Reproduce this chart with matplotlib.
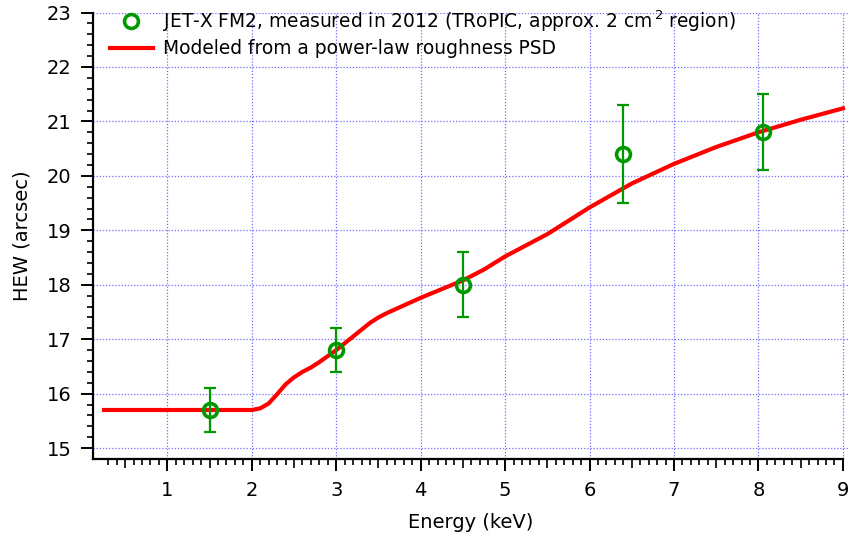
import numpy as np
import matplotlib
matplotlib.use("Agg")
import matplotlib.pyplot as plt
from matplotlib.ticker import FixedLocator
from matplotlib.transforms import IdentityTransform

# measured data
meas_energy = [1.5, 3.0, 4.5, 6.4, 8.05]
meas_hew = [15.7, 16.8, 18.0, 20.4, 20.8]
meas_err = [0.4, 0.4, 0.6, 0.9, 0.7]

# model curve
model_energy = [0.25, 0.5, 1.0, 1.5, 2.0, 2.1, 2.2, 2.3, 2.4, 2.5, 2.6, 2.7, 2.8, 2.9,
                3.0, 3.2, 3.4, 3.5, 3.6, 3.8, 4.0, 4.25, 4.5, 4.75, 5.0, 5.5, 6.0,
                6.5, 7.0, 7.5, 8.0, 8.5, 9.0]
model_hew = [15.7, 15.7, 15.7, 15.7, 15.7, 15.73, 15.82, 15.99, 16.17, 16.3, 16.4, 16.48,
             16.58, 16.69, 16.8, 17.05, 17.3, 17.4, 17.48, 17.62, 17.76, 17.92, 18.08,
             18.28, 18.52, 18.93, 19.42, 19.86, 20.22, 20.53, 20.8, 21.03, 21.24]

xticks = [1, 2, 3, 4, 5, 6, 7, 8, 9]
yticks = [15, 16, 17, 18, 19, 20, 21, 22, 23]

plt.rcParams['font.family'] = ['DejaVu Sans']
fig = plt.figure(figsize=(8.48, 5.33), dpi=100)
ax = fig.add_axes([93/848, (533-459)/533, 1 - 93/848, (459-12.5)/533])

green = '#009a00'
ax.errorbar(meas_energy, meas_hew, yerr=meas_err, fmt='none', ecolor=green,
            elinewidth=1.6, capsize=4, capthick=1.6, zorder=4)
ax.plot(meas_energy, meas_hew, 'o', color=green, mfc='none', mec=green, ms=10,
        mew=2.6, zorder=5,
        label='JET-X FM2, measured in 2012 (TRoPIC, approx. 2 cm$^{\\,2}$ region)')
ax.plot(model_energy, model_hew, color='#ff0000', lw=3, zorder=3,
        label='Modeled from a power-law roughness PSD')

ax.set_xlim(0.12, 9.06)
ax.set_ylim(14.8, 23.0)

ax.xaxis.set_major_locator(FixedLocator(xticks))
ax.yaxis.set_major_locator(FixedLocator(yticks))
ax.xaxis.set_minor_locator(FixedLocator([round(v, 1) for v in np.arange(0.3, 9.0, 0.1)
                                         if abs(v*2 - round(v*2)) > 1e-6]))
ax.yaxis.set_minor_locator(FixedLocator([round(v, 1) for v in np.arange(15.2, 23.0, 0.2)
                                         if abs(v - round(v)) > 1e-6]))

ax.grid(True, which='major', color='#6f6fff', linestyle=(0, (1, 1.5)), lw=0.9)
ax.set_axisbelow(True)

for s in ['top', 'right']:
    ax.spines[s].set_visible(False)
for s in ['left', 'bottom']:
    ax.spines[s].set_linewidth(1.6)
ax.spines['bottom'].set_bounds(0.12, 9.0)
ax.spines['left'].set_bounds(14.8, 23.0)

ax.tick_params(which='major', direction='out', length=8.5, width=1.4, labelsize=14,
               pad=7)
ax.tick_params(which='minor', direction='out', length=4, width=1.2)

# medium ticks at half-integers on x
sec = ax.secondary_xaxis('bottom')
sec.set_xticks([v + 0.5 for v in range(0, 9)])
sec.tick_params(direction='out', length=6.5, width=1.2, labelbottom=False)
sec.spines['bottom'].set_visible(False)

ax.set_xlabel('Energy (keV)', fontsize=14, labelpad=10)
ax.set_ylabel('HEW (arcsec)', fontsize=14, labelpad=11)

ax.legend(loc='upper left', bbox_to_anchor=(110, 533 - 8), bbox_transform=IdentityTransform(),
          frameon=False, fontsize=13.4, handlelength=2.3, handletextpad=0.55,
          labelspacing=0.3, borderaxespad=0, borderpad=0)

fig.savefig('out.png', dpi=100)
